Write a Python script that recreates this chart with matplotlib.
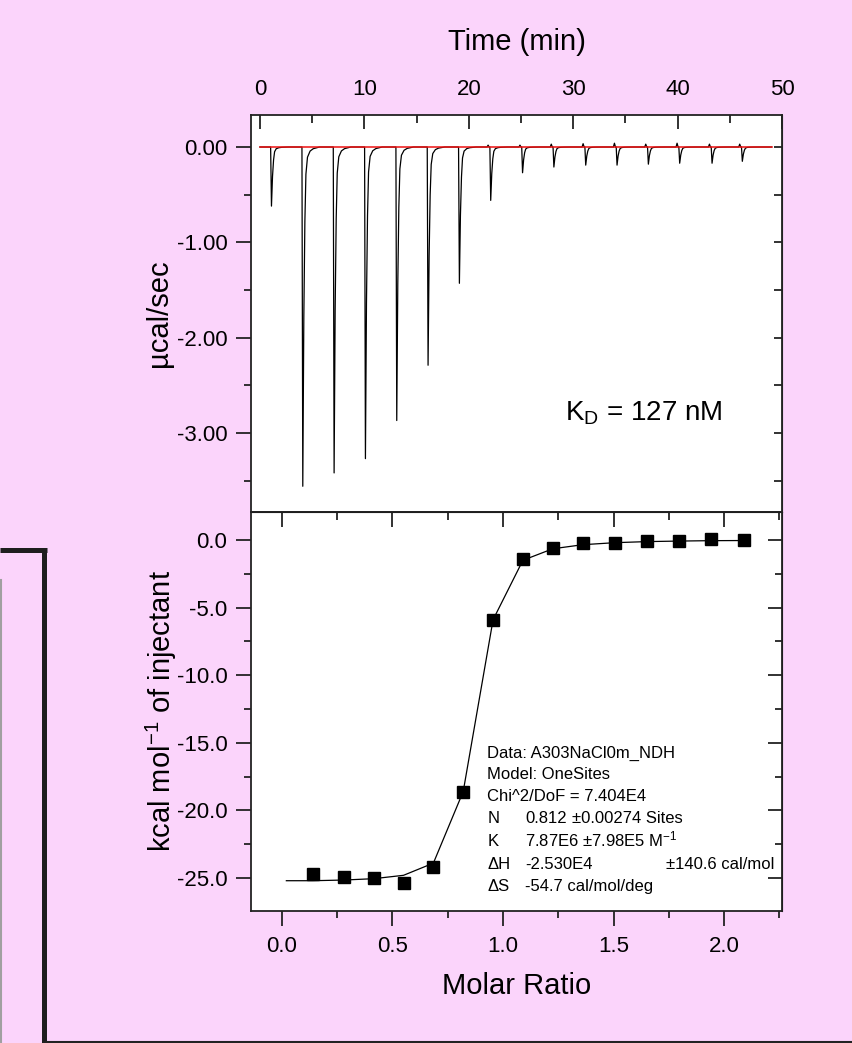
import matplotlib.pyplot as plt
from matplotlib.lines import Line2D
from matplotlib.ticker import MultipleLocator

plt.rcParams['font.family'] = ['Liberation Sans', 'DejaVu Sans']
plt.rcParams['mathtext.fontset'] = 'custom'
plt.rcParams['mathtext.rm'] = 'Liberation Sans'
plt.rcParams['mathtext.it'] = 'Liberation Sans'
plt.rcParams['axes.unicode_minus'] = False

PINK = '#fbd4fb'
INK = '#222222'

# raw ITC trace: peak tip times (min) and depths (ucal/sec)
peak_times = [1.1, 4.1, 7.1, 10.1, 13.1, 16.1, 19.1, 22.1, 25.15, 28.15,
              31.2, 34.2, 37.2, 40.2, 43.3, 46.2]
peak_depths = [-0.62, -3.56, -3.42, -3.27, -2.87, -2.29, -1.43, -0.56, -0.27,
               -0.21, -0.19, -0.19, -0.18, -0.17, -0.17, -0.15]
# small mixing spike just before each injection
blip_heights = [0.0, 0.0, 0.0, 0.0, 0.0, 0.0, 0.0, 0.02, 0.02, 0.03, 0.035,
                0.04, 0.03, 0.04, 0.03, 0.03]
# shape of one peak: minutes after tip, fraction of depth
shape_dt = [0.0, 0.1, 0.2, 0.3, 0.45, 0.7, 1.0, 1.6]
shape_frac = [1.0, 0.5, 0.22, 0.08, 0.03, 0.012, 0.005, 0.0]
run_start, run_end = 0.0, 49.0

# integrated heats
molar_ratio = [0.14, 0.28, 0.415, 0.55, 0.685, 0.82, 0.955, 1.09, 1.225,
               1.36, 1.505, 1.65, 1.795, 1.94, 2.09]
heat = [-24.7, -24.9, -25.0, -25.35, -24.2, -18.65, -5.95, -1.4, -0.6,
        -0.2, -0.25, -0.1, -0.05, 0.05, 0.0]
fit_x = [0.02, 0.14, 0.28, 0.415, 0.55, 0.685, 0.82, 0.955, 1.09, 1.225,
         1.36, 1.505, 1.65, 1.795, 1.94, 2.09]
fit_y = [-25.2, -25.2, -25.15, -25.05, -24.8, -23.9, -18.6, -5.9, -1.5,
         -0.65, -0.35, -0.2, -0.12, -0.08, -0.05, -0.04]

top_ticks = [0, 10, 20, 30, 40, 50]
top_yticks = [0.0, -1.0, -2.0, -3.0]
bot_xticks = [0.0, 0.5, 1.0, 1.5, 2.0]
bot_yticks = [0.0, -5.0, -10.0, -15.0, -20.0, -25.0]

fit_lines = [('Data: A303NaCl0m_NDH', None, None),
             ('Model: OneSites', None, None),
             ('Chi^2/DoF = 7.404E4', None, None),
             ('N', '0.812', '±0.00274 Sites'),
             ('K', '7.87E6 ±7.98E5 M$^{-1}$', None),
             ('ΔH', '-2.530E4', '±140.6 cal/mol'),
             ('ΔS', '-54.7 cal/mol/deg', None)]

# build the trace from the peak list
trace_t = [run_start]
trace_y = [0.0]
for tip, depth, blip in zip(peak_times, peak_depths, blip_heights):
    trace_t += [tip - 0.35, tip - 0.25, tip - 0.15, tip - 0.08]
    trace_y += [0.0, blip, 0.0, 0.0]
    for dt, fr in zip(shape_dt, shape_frac):
        trace_t.append(tip + dt)
        trace_y.append(depth * fr)
trace_t.append(run_end)
trace_y.append(0.0)

W, H = 852, 1043
fig = plt.figure(figsize=(W / 100, H / 100), dpi=100, facecolor=PINK)


def box(l, t, r, b):
    return [l / W, 1 - b / H, (r - l) / W, (b - t) / H]


ax1 = fig.add_axes(box(251, 115, 782, 512))
ax2 = fig.add_axes(box(251, 512, 782, 911))

for ax in (ax1, ax2):
    ax.set_facecolor('white')
    for s in ax.spines.values():
        s.set_color(INK)
        s.set_linewidth(1.3)

# ---- top panel
ax1.plot(trace_t, trace_y, color='black', lw=0.9)
ax1.plot([run_start, run_end], [0, 0], color='#ee1111', lw=1.1)
ax1.set_xlim(-0.86, 50)
ax1.set_ylim(-3.83, 0.336)
ax1.xaxis.tick_top()
ax1.set_xticks(top_ticks)
ax1.set_xticklabels([str(t) for t in top_ticks])
ax1.xaxis.set_minor_locator(MultipleLocator(5))
ax1.tick_params(axis='x', which='both', direction='in', top=True, bottom=False,
                labeltop=True, labelbottom=False, labelsize=16, pad=11,
                color=INK, width=1.3)
ax1.tick_params(axis='x', which='major', length=10)
ax1.tick_params(axis='x', which='minor', length=6)
ax1.set_yticks(top_yticks)
ax1.set_yticklabels(['%.2f' % v for v in top_yticks])
ax1.yaxis.set_minor_locator(MultipleLocator(0.5))
ax1.tick_params(axis='y', which='both', direction='out', right=False,
                labelsize=16, pad=6, color=INK, width=1.3)
ax1.tick_params(axis='y', which='major', length=11)
ax1.tick_params(axis='y', which='minor', length=5)
r1 = ax1.secondary_yaxis('right')
r1.set_yticks(top_yticks)
r1.yaxis.set_minor_locator(MultipleLocator(0.5))
r1.tick_params(which='both', direction='in', length=6, labelright=False,
               color=INK, width=1.3)
r1.spines['right'].set_color(INK)
ax1.set_xlabel('Time (min)', fontsize=21)
ax1.xaxis.set_label_position('top')
ax1.xaxis.set_label_coords(0.5, (512 - 42) / 397)
ax1.xaxis.label.set_va('center')
ax1.set_ylabel('µcal/sec', fontsize=21)
ax1.yaxis.set_label_coords((159 - 251) / 531, 0.5)
ax1.yaxis.label.set_va('center')
ax1.text(29.2, -2.79, 'K$_\\mathrm{D}$ = 127 nM', fontsize=20, va='center')

# ---- bottom panel
ax2.plot(fit_x, fit_y, color='black', lw=0.9)
ax2.plot(molar_ratio, heat, 's', color='black', ms=9, mec='black')
ax2.set_xlim(-0.14, 2.262)
ax2.set_ylim(-27.44, 2.07)
ax2.set_xticks(bot_xticks)
ax2.set_xticklabels(['%.1f' % v for v in bot_xticks])
ax2.xaxis.set_minor_locator(MultipleLocator(0.25))
ax2.tick_params(axis='x', which='both', direction='out', top=False,
                labelsize=16, pad=7, color=INK, width=1.3)
ax2.tick_params(axis='x', which='major', length=11)
ax2.tick_params(axis='x', which='minor', length=5)
ax2.set_yticks(bot_yticks)
ax2.set_yticklabels(['%.1f' % v for v in bot_yticks])
ax2.yaxis.set_minor_locator(MultipleLocator(2.5))
ax2.tick_params(axis='y', which='both', direction='out', right=False,
                labelsize=16, pad=6, color=INK, width=1.3)
ax2.tick_params(axis='y', which='major', length=11)
ax2.tick_params(axis='y', which='minor', length=5)
t2 = ax2.secondary_xaxis('top')
t2.set_xticks(bot_xticks)
t2.xaxis.set_minor_locator(MultipleLocator(0.25))
t2.tick_params(which='both', direction='in', labeltop=False, color=INK,
               width=1.3)
t2.tick_params(which='major', length=11)
t2.tick_params(which='minor', length=6)
r2 = ax2.secondary_yaxis('right')
r2.set_yticks(bot_yticks)
r2.yaxis.set_minor_locator(MultipleLocator(2.5))
r2.tick_params(which='both', direction='in', labelright=False, color=INK,
               width=1.3)
r2.tick_params(which='major', length=10)
r2.tick_params(which='minor', length=5)
ax2.set_xlabel('Molar Ratio', fontsize=21)
ax2.xaxis.set_label_coords(0.5, (911 - 986) / 399)
ax2.xaxis.label.set_va('center')
ax2.set_ylabel('kcal mol$^{-1}$ of injectant', fontsize=21)
ax2.yaxis.set_label_coords((161 - 251) / 531, 0.5)
ax2.yaxis.label.set_va('center')

# fit report (baseline aligned so the M^-1 line sits level)
col_x = [(486.7 - 250) / 532, (525 - 250) / 532]
row_y = [0.399, 0.345, 0.291, 0.236, 0.178, 0.121, 0.065]
extra_x = {'±0.00274 Sites': (572 - 250) / 532, '±140.6 cal/mol': (666 - 250) / 532}
for (a, b, c), yy in zip(fit_lines, row_y):
    yb = yy - 0.015
    ax2.text(col_x[0], yb, a, transform=ax2.transAxes, fontsize=12, va='baseline')
    if b:
        ax2.text(col_x[1], yb, b, transform=ax2.transAxes, fontsize=12, va='baseline')
    if c:
        ax2.text(extra_x[c], yb, c, transform=ax2.transAxes, fontsize=12, va='baseline')


# frame pieces around the figure
def fig_line(xs, ys, **kw):
    fig.add_artist(Line2D([x / W for x in xs], [1 - y / H for y in ys],
                          transform=fig.transFigure, **kw))


fig_line([0, 46.5], [550, 550], color='#1e1e1e', lw=3.6, solid_capstyle='butt')
fig_line([44, 44], [548, 1043], color='#1e1e1e', lw=3.6, solid_capstyle='butt')
fig_line([1, 1], [580, 1043], color='#a0a0a0', lw=1.5)
fig_line([44, 852], [1041.5, 1041.5], color=INK, lw=1.5)

fig.savefig('out.png', dpi=100, facecolor=PINK)
